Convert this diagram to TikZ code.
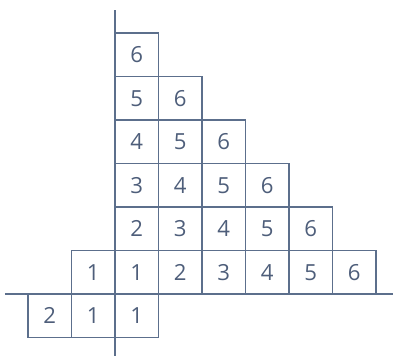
\documentclass[tikz,border=0pt]{standalone}
\usepackage{fontspec}
\setmainfont{Open Sans}
\usetikzlibrary{positioning}
\definecolor{gridcol}{RGB}{92,111,140}
\definecolor{numcol}{RGB}{78,94,122}

\begin{document}
\begin{tikzpicture}[
    cell/.style={draw=gridcol, line width=0.9pt, minimum size=1cm, inner sep=0pt, text=numcol, font=\fontsize{14.5}{17}\selectfont},
    axis/.style={draw=gridcol, line width=0.9pt},
]
\useasboundingbox (-2.644,-1.471) rectangle (6.460,6.759);
% axes
\coordinate (xl) at (-2.53,0);
\coordinate (xr) at (6.40,0);
\coordinate (yb) at (0,-1.42);
\coordinate (yt) at (0,6.53);
\draw[axis] (xl) -- (xr);
\draw[axis] (yb) -- (yt);
% row below the axis
\node[cell] (b2) at (-1.5,-0.5) {2};
\node[cell] (b1) at (-0.5,-0.5) {1};
\node[cell] (b0) at (0.5,-0.5) {1};
% row on the axis
\node[cell] (r0m) at (-0.5,0.5) {1};
\foreach \c in {0,...,5}
    \node[cell] (r0c\c) at (\c+0.5,0.5) {\the\numexpr\c+1\relax};
% upper rows
\foreach \r in {1,...,5}
    \foreach \c in {0,...,\numexpr5-\r\relax}
        \node[cell] (r\r c\c) at (\c+0.5,\r+0.5) {\the\numexpr\r+\c+1\relax};
\end{tikzpicture}
\end{document}
